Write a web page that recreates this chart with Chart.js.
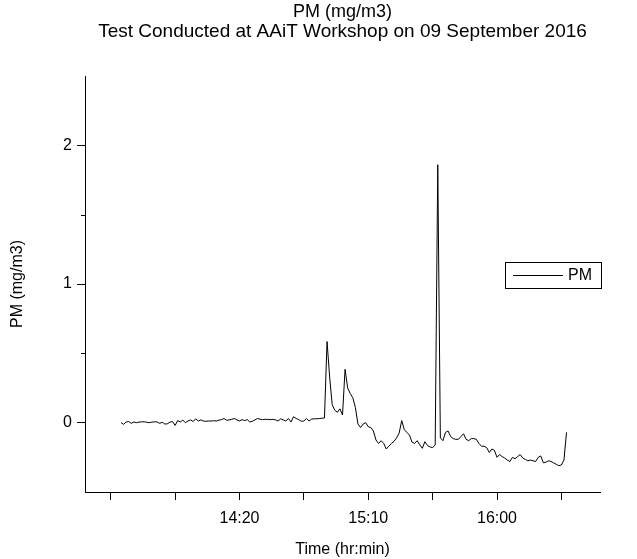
<!DOCTYPE html>
<html>
<head>
<meta charset="utf-8">
<script src="https://cdn.jsdelivr.net/npm/chart.js@4"></script>
<style>
  html, body { margin: 0; padding: 0; background: #fff; }
</style>
</head>
<body>
<canvas id="pmChart" width="637" height="559"></canvas>
<script>
// Chart text
const titleLines = ['PM (mg/m3)', 'Test Conducted at AAiT Workshop on 09 September 2016'];
const seriesName = 'PM';
const xTitle = 'Time (hr:min)';
const yTitle = 'PM (mg/m3)';

// Samples: one reading per minute starting at startTime
const startTime = '13:34';
const pmValues = [
    0.000, -0.012, 0.005, 0.008, -0.005, 0.005, 0.000, 0.004, 0.006, 0.006,
    0.003, 0.000, 0.004, 0.006, 0.005, -0.005, 0.003, -0.010, -0.008, 0.004,
    0.008, -0.020, 0.015, 0.005, 0.018, 0.000, 0.012, 0.020, 0.008, 0.028,
    0.012, 0.020, 0.012, 0.010, 0.012, 0.012, 0.014, 0.012, 0.018, 0.022,
    0.030, 0.017, 0.020, 0.024, 0.030, 0.020, 0.012, 0.022, 0.015, 0.022,
    0.005, 0.010, 0.020, 0.030, 0.025, 0.022, 0.024, 0.024, 0.022, 0.024,
    0.020, 0.012, 0.028, 0.020, 0.012, 0.030, 0.005, 0.043, 0.030, 0.022,
    0.010, 0.012, 0.030, 0.012, 0.026, 0.028, 0.028, 0.030, 0.032, 0.034,
    0.585, 0.330, 0.130, 0.090, 0.075, 0.100, 0.055, 0.385, 0.250, 0.210,
    0.180, 0.110, -0.010, -0.035, -0.010, 0.000, -0.030, -0.035, -0.060, -0.125,
    -0.150, -0.130, -0.150, -0.190, -0.170, -0.150, -0.135, -0.110, -0.075, 0.015,
    -0.050, -0.070, -0.090, -0.140, -0.150, -0.130, -0.160, -0.185, -0.137, -0.165,
    -0.175, -0.180, -0.160, 1.860, -0.110, -0.130, -0.070, -0.060, -0.100, -0.115,
    -0.120, -0.120, -0.100, -0.080, -0.120, -0.130, -0.115, -0.115, -0.120, -0.150,
    -0.170, -0.170, -0.180, -0.215, -0.190, -0.200, -0.250, -0.230, -0.245, -0.255,
    -0.270, -0.280, -0.250, -0.260, -0.245, -0.230, -0.255, -0.265, -0.275, -0.270,
    -0.275, -0.280, -0.250, -0.240, -0.290, -0.285, -0.275, -0.280, -0.290, -0.300,
    -0.310, -0.305, -0.270, -0.070
];

// Axes
const xRange = ['13:20', '16:40'];
const xTicks = ['13:30', '13:55', '14:20', '14:45', '15:10', '15:35', '16:00', '16:25'];
const xTickLabels = ['14:20', '15:10', '16:00'];
const yRange = [-0.5, 2.5];
const yTicks = [0, 0.5, 1, 1.5, 2];
const yTickLabels = ['0', '1', '2'];

function toMinutes(hhmm) {
    const parts = hhmm.split(':');
    return Number(parts[0]) * 60 + Number(parts[1]);
}

function toClock(minutes) {
    const h = Math.floor(minutes / 60);
    const m = Math.round(minutes % 60);
    return h + ':' + String(m).padStart(2, '0');
}

const start = toMinutes(startTime);
const points = pmValues.map((v, i) => ({ x: start + i, y: v }));

const fontFamily = '"Liberation Sans", Arial, sans-serif';
Chart.defaults.font.family = fontFamily;
Chart.defaults.font.size = 16;
Chart.defaults.color = '#000';

// Two-line title centred over the plot
const titlePlugin = {
    id: 'plotTitle',
    afterDraw(chart) {
        const { ctx, chartArea } = chart;
        const cx = (chartArea.left + chartArea.right) / 2;
        const sizes = [18, 19];
        ctx.save();
        ctx.fillStyle = '#000';
        ctx.textAlign = 'center';
        ctx.textBaseline = 'middle';
        titleLines.forEach((line, i) => {
            ctx.font = sizes[i] + 'px ' + fontFamily;
            ctx.fillText(line, cx, 12 + i * 20);
        });
        ctx.restore();
    }
};

// Short minor ticks on the y axis
const minorTickPlugin = {
    id: 'minorTicks',
    afterDraw(chart) {
        const { ctx, chartArea, scales } = chart;
        ctx.save();
        ctx.strokeStyle = '#000';
        ctx.lineWidth = 1;
        yTicks.filter(v => !yTickLabels.includes(String(v))).forEach(v => {
            const y = Math.round(scales.y.getPixelForValue(v)) + 0.5;
            ctx.beginPath();
            ctx.moveTo(chartArea.left - 4, y);
            ctx.lineTo(chartArea.left, y);
            ctx.stroke();
        });
        ctx.restore();
    }
};

// Boxed legend inside the plot
const boxLegendPlugin = {
    id: 'boxLegend',
    afterDraw(chart) {
        const { ctx, chartArea } = chart;
        const x = Math.round(chartArea.right) - 95;
        const y = Math.round(chartArea.top) + 186;
        ctx.save();
        ctx.strokeStyle = '#000';
        ctx.lineWidth = 1;
        ctx.strokeRect(x + 0.5, y + 0.5, 96, 26);
        ctx.beginPath();
        ctx.moveTo(x + 8, y + 13.5);
        ctx.lineTo(x + 58, y + 13.5);
        ctx.stroke();
        ctx.fillStyle = '#000';
        ctx.font = '16px ' + fontFamily;
        ctx.textBaseline = 'middle';
        ctx.fillText(seriesName, x + 63, y + 14);
        ctx.restore();
    }
};

new Chart(document.getElementById('pmChart'), {
    type: 'line',
    data: {
        datasets: [{
            label: seriesName,
            data: points,
            borderColor: '#000',
            borderWidth: 1,
            pointRadius: 0,
            tension: 0,
            fill: false
        }]
    },
    options: {
        responsive: false,
        animation: false,
        layout: { padding: { top: 76, right: 37, left: 0, bottom: 0 } },
        plugins: {
            legend: { display: false },
            title: { display: false },
            tooltip: { enabled: false }
        },
        scales: {
            x: {
                type: 'linear',
                min: toMinutes(xRange[0]),
                max: toMinutes(xRange[1]),
                afterFit: s => { s.height = 67; },
                afterBuildTicks: s => { s.ticks = xTicks.map(t => ({ value: toMinutes(t) })); },
                ticks: {
                    padding: 9,
                    maxRotation: 0,
                    autoSkip: false,
                    callback: v => xTickLabels.includes(toClock(v)) ? toClock(v) : ''
                },
                grid: { drawOnChartArea: false, tickLength: 8, tickColor: '#000' },
                border: { color: '#000', width: 1 },
                title: { display: true, text: xTitle, padding: { top: 1, bottom: 0 } }
            },
            y: {
                min: yRange[0],
                max: yRange[1],
                afterFit: s => { s.width = 85; },
                afterBuildTicks: s => { s.ticks = yTicks.map(v => ({ value: v })); },
                ticks: {
                    padding: 5,
                    autoSkip: false,
                    callback: v => yTickLabels.includes(String(v)) ? String(v) : ''
                },
                grid: {
                    drawOnChartArea: false,
                    tickLength: 8,
                    tickColor: ctx => yTickLabels.includes(String(ctx.tick.value)) ? '#000' : 'rgba(0,0,0,0)'
                },
                border: { color: '#000', width: 1 },
                title: { display: true, text: yTitle, padding: { top: 8, bottom: 0 } }
            }
        }
    },
    plugins: [titlePlugin, minorTickPlugin, boxLegendPlugin]
});
</script>
</body>
</html>
